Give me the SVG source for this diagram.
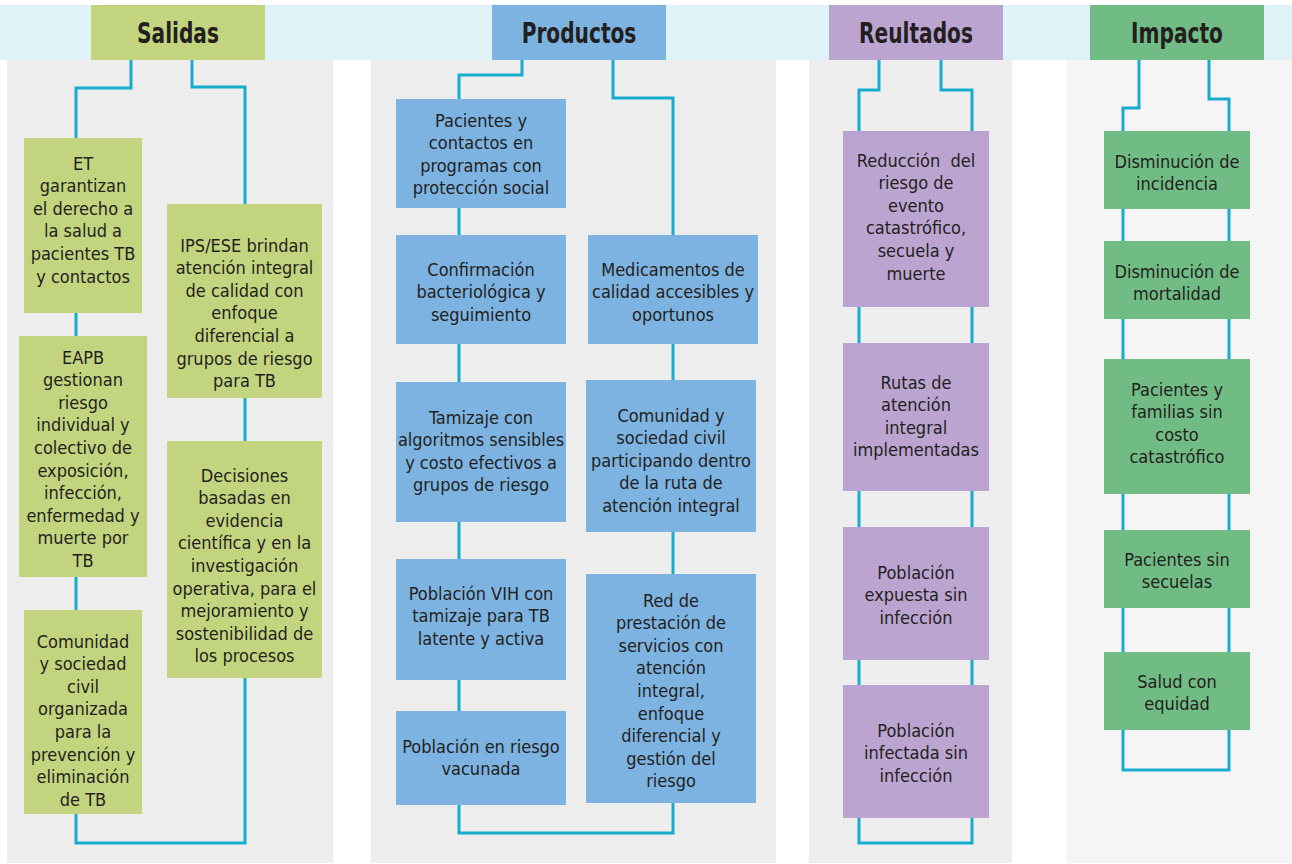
<svg xmlns="http://www.w3.org/2000/svg" width="1292" height="864" viewBox="0 0 1292 864">
<style>
.bg{fill:#EDEDED}
.bg2{fill:#F5F5F5}
.band{fill:#DEF2F8}
.g{fill:#C3D47F}
.b{fill:#7DB3E1}
.p{fill:#BCA4D0}
.m{fill:#71BC84}
.h{font-family:"DejaVu Sans Condensed","Liberation Sans Narrow","Liberation Sans",sans-serif;font-weight:bold;font-size:28px;fill:#231F20;text-anchor:middle}
.t{font-family:"DejaVu Sans Condensed","Liberation Sans Narrow","Liberation Sans",sans-serif;font-size:18px;fill:#231F20;text-anchor:middle}
.c{fill:none;stroke:#16ABCF;stroke-width:3}
</style>
<rect width="1292" height="864" fill="#FFFFFF"/>
<rect class="band" x="0" y="5" width="1292" height="55"/>
<rect class="bg" x="7" y="60" width="326" height="803"/>
<rect class="bg" x="371" y="60" width="405" height="803"/>
<rect class="bg" x="809" y="60" width="203" height="803"/>
<rect class="bg2" x="1066" y="60" width="226" height="803"/>

<g id="connectors">
<path class="c" d="M131,60 V88 H76 V843 H245 V87 H192 V60"/>
<path class="c" d="M522,60 V75 H459 V833 H673 V98 H613 V60"/>
<path class="c" d="M879,60 V90 H859 V843 H972 V90 H941 V60"/>
<path class="c" d="M1139,60 V108 H1123 V770 H1229 V99 H1209 V60"/>
</g>

<g id="h-salidas"><rect class="g" x="91" y="5" width="174" height="55"/><text class="h" transform="translate(178,43) scale(0.8,1)">Salidas</text></g>
<g id="h-productos"><rect class="b" x="492" y="5" width="174" height="55"/><text class="h" transform="translate(579,43) scale(0.8,1)">Productos</text></g>
<g id="h-reultados"><rect class="p" x="829" y="5" width="174" height="55"/><text class="h" transform="translate(916,43) scale(0.8,1)">Reultados</text></g>
<g id="h-impacto"><rect class="m" x="1090" y="5" width="174" height="55"/><text class="h" transform="translate(1177,43) scale(0.8,1)">Impacto</text></g>

<g id="s-et"><rect class="g" x="24" y="138" width="118" height="175"/>
<text class="t" x="83" y="169.5">ET<tspan x="83" dy="22.6">garantizan</tspan><tspan x="83" dy="22.6">el derecho a</tspan><tspan x="83" dy="22.6">la salud a</tspan><tspan x="83" dy="22.6">pacientes TB</tspan><tspan x="83" dy="22.6">y contactos</tspan></text></g>
<g id="s-eapb"><rect class="g" x="19" y="336" width="128" height="241"/>
<text class="t" x="83" y="363.5">EAPB<tspan x="83" dy="22.6">gestionan</tspan><tspan x="83" dy="22.6">riesgo</tspan><tspan x="83" dy="22.6">individual y</tspan><tspan x="83" dy="22.6">colectivo de</tspan><tspan x="83" dy="22.6">exposición,</tspan><tspan x="83" dy="22.6">infección,</tspan><tspan x="83" dy="22.6">enfermedad y</tspan><tspan x="83" dy="22.6">muerte por</tspan><tspan x="83" dy="22.6">TB</tspan></text></g>
<g id="s-comunidad"><rect class="g" x="24" y="610" width="118" height="204"/>
<text class="t" x="83" y="647.5">Comunidad<tspan x="83" dy="22.6">y sociedad</tspan><tspan x="83" dy="22.6">civil</tspan><tspan x="83" dy="22.6">organizada</tspan><tspan x="83" dy="22.6">para la</tspan><tspan x="83" dy="22.6">prevención y</tspan><tspan x="83" dy="22.6">eliminación</tspan><tspan x="83" dy="22.6">de TB</tspan></text></g>
<g id="s-ips"><rect class="g" x="167" y="204" width="155" height="194"/>
<text class="t" x="244.5" y="251.5">IPS/ESE brindan<tspan x="244.5" dy="22.6">atención integral</tspan><tspan x="244.5" dy="22.6">de calidad con</tspan><tspan x="244.5" dy="22.6">enfoque</tspan><tspan x="244.5" dy="22.6">diferencial a</tspan><tspan x="244.5" dy="22.6">grupos de riesgo</tspan><tspan x="244.5" dy="22.6">para TB</tspan></text></g>
<g id="s-decisiones"><rect class="g" x="167" y="441" width="155" height="237"/>
<text class="t" x="244.5" y="481.5">Decisiones<tspan x="244.5" dy="22.6">basadas en</tspan><tspan x="244.5" dy="22.6">evidencia</tspan><tspan x="244.5" dy="22.6">científica y en la</tspan><tspan x="244.5" dy="22.6">investigación</tspan><tspan x="244.5" dy="22.6">operativa, para el</tspan><tspan x="244.5" dy="22.6">mejoramiento y</tspan><tspan x="244.5" dy="22.6">sostenibilidad de</tspan><tspan x="244.5" dy="22.6">los procesos</tspan></text></g>

<g id="p-pacientes"><rect class="b" x="396" y="99" width="170" height="109"/>
<text class="t" x="481" y="126.5">Pacientes y<tspan x="481" dy="22.6">contactos en</tspan><tspan x="481" dy="22.6">programas con</tspan><tspan x="481" dy="22.6">protección social</tspan></text></g>
<g id="p-confirmacion"><rect class="b" x="396" y="235" width="170" height="109"/>
<text class="t" x="481" y="275.5">Confirmación<tspan x="481" dy="22.6">bacteriológica y</tspan><tspan x="481" dy="22.6">seguimiento</tspan></text></g>
<g id="p-tamizaje"><rect class="b" x="396" y="382" width="170" height="140"/>
<text class="t" x="481" y="423.5">Tamizaje con<tspan x="481" dy="22.6">algoritmos sensibles</tspan><tspan x="481" dy="22.6">y costo efectivos a</tspan><tspan x="481" dy="22.6">grupos de riesgo</tspan></text></g>
<g id="p-vih"><rect class="b" x="396" y="559" width="170" height="121"/>
<text class="t" x="481" y="599.5">Población VIH con<tspan x="481" dy="22.6">tamizaje para TB</tspan><tspan x="481" dy="22.6">latente y activa</tspan></text></g>
<g id="p-vacunada"><rect class="b" x="396" y="711" width="170" height="94"/>
<text class="t" x="481" y="752.5">Población en riesgo<tspan x="481" dy="22.6">vacunada</tspan></text></g>
<g id="p-medicamentos"><rect class="b" x="588" y="235" width="170" height="109"/>
<text class="t" x="673" y="275.5">Medicamentos de<tspan x="673" dy="22.6">calidad accesibles y</tspan><tspan x="673" dy="22.6">oportunos</tspan></text></g>
<g id="p-comunidad"><rect class="b" x="586" y="380" width="170" height="152"/>
<text class="t" x="671" y="421.5">Comunidad y<tspan x="671" dy="22.6">sociedad civil</tspan><tspan x="671" dy="22.6">participando dentro</tspan><tspan x="671" dy="22.6">de la ruta de</tspan><tspan x="671" dy="22.6">atención integral</tspan></text></g>
<g id="p-red"><rect class="b" x="586" y="574" width="170" height="229"/>
<text class="t" x="671" y="606.5">Red de<tspan x="671" dy="22.6">prestación de</tspan><tspan x="671" dy="22.6">servicios con</tspan><tspan x="671" dy="22.6">atención</tspan><tspan x="671" dy="22.6">integral,</tspan><tspan x="671" dy="22.6">enfoque</tspan><tspan x="671" dy="22.6">diferencial y</tspan><tspan x="671" dy="22.6">gestión del</tspan><tspan x="671" dy="22.6">riesgo</tspan></text></g>

<g id="r-reduccion"><rect class="p" x="843" y="131" width="146" height="176"/>
<text class="t" x="916" y="166.5">Reducción&#160; del<tspan x="916" dy="22.6">riesgo de</tspan><tspan x="916" dy="22.6">evento</tspan><tspan x="916" dy="22.6">catastrófico,</tspan><tspan x="916" dy="22.6">secuela y</tspan><tspan x="916" dy="22.6">muerte</tspan></text></g>
<g id="r-rutas"><rect class="p" x="843" y="343" width="146" height="148"/>
<text class="t" x="916" y="388.5">Rutas de<tspan x="916" dy="22.6">atención</tspan><tspan x="916" dy="22.6">integral</tspan><tspan x="916" dy="22.6">implementadas</tspan></text></g>
<g id="r-expuesta"><rect class="p" x="843" y="527" width="146" height="133"/>
<text class="t" x="916" y="578.5">Población<tspan x="916" dy="22.6">expuesta sin</tspan><tspan x="916" dy="22.6">infección</tspan></text></g>
<g id="r-infectada"><rect class="p" x="843" y="685" width="146" height="133"/>
<text class="t" x="916" y="736.5">Población<tspan x="916" dy="22.6">infectada sin</tspan><tspan x="916" dy="22.6">infección</tspan></text></g>

<g id="i-incidencia"><rect class="m" x="1104" y="131" width="146" height="78"/>
<text class="t" x="1177" y="167.5">Disminución de<tspan x="1177" dy="22.6">incidencia</tspan></text></g>
<g id="i-mortalidad"><rect class="m" x="1104" y="241" width="146" height="78"/>
<text class="t" x="1177" y="277.5">Disminución de<tspan x="1177" dy="22.6">mortalidad</tspan></text></g>
<g id="i-familias"><rect class="m" x="1104" y="359" width="146" height="135"/>
<text class="t" x="1177" y="395.5">Pacientes y<tspan x="1177" dy="22.6">familias sin</tspan><tspan x="1177" dy="22.6">costo</tspan><tspan x="1177" dy="22.6">catastrófico</tspan></text></g>
<g id="i-secuelas"><rect class="m" x="1104" y="530" width="146" height="78"/>
<text class="t" x="1177" y="565.5">Pacientes sin<tspan x="1177" dy="22.6">secuelas</tspan></text></g>
<g id="i-equidad"><rect class="m" x="1104" y="652" width="146" height="78"/>
<text class="t" x="1177" y="687.5">Salud con<tspan x="1177" dy="22.6">equidad</tspan></text></g>
</svg>
